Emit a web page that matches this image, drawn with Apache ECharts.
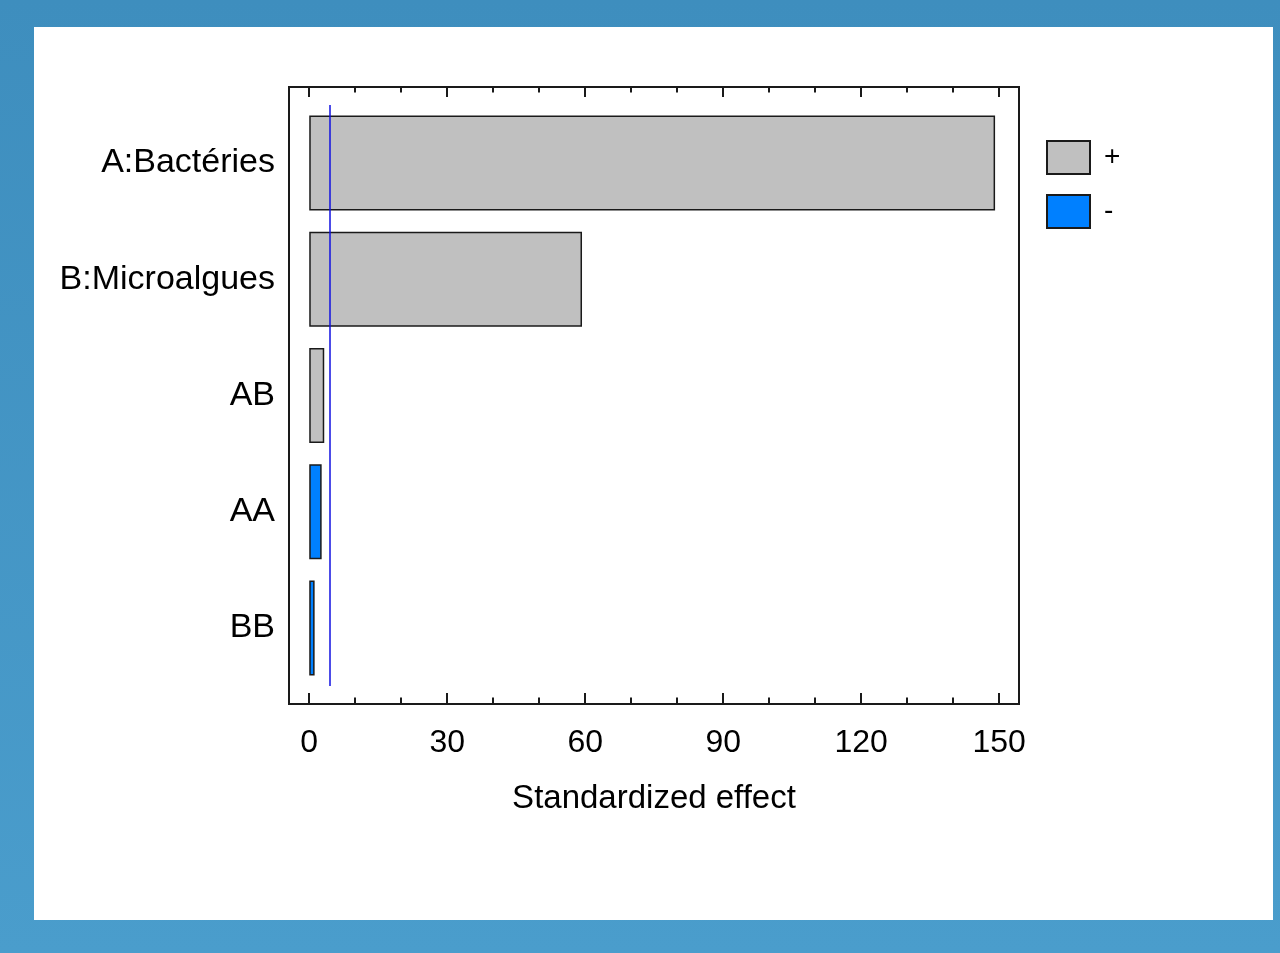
<!DOCTYPE html>
<html lang="fr">
<head>
    <meta charset="UTF-8">
    <title>Standardized effect</title>
    <script src="https://cdn.jsdelivr.net/npm/echarts@6.0.0/dist/echarts.min.js"></script>
    <style>
        * { margin: 0; padding: 0; box-sizing: border-box; }
        body {
            width: 1280px;
            height: 953px;
            overflow: hidden;
            background: linear-gradient(#3e8ebe, #4a9dcc);
            position: relative;
        }
        #panel {
            position: absolute;
            left: 34px; top: 27px;
            width: 1239px; height: 893px;
            background: #ffffff;
        }
        #chart {
            position: absolute;
            left: 0; top: 0;
            width: 1280px; height: 953px;
        }
    </style>
</head>
<body>
    <div id="panel"></div>
    <div id="chart"></div>

    <script>
        // donnees
        const categories = ['A:Bactéries', 'B:Microalgues', 'AB', 'AA', 'BB'];
        const positiveEffects = [149.1, 59.3, 3.26, '-', '-'];
        const negativeEffects = ['-', '-', '-', 2.7, 1.17];
        const criticalValue = 4.43;
        const majorTicks = [0, 30, 60, 90, 120, 150];
        const minorTicks = [10, 20, 40, 50, 70, 80, 100, 110, 130, 140];

        // pas de police etroite installee : on reduit la taille pour garder la largeur
        const FONT = "'Liberation Sans', Arial, sans-serif";
        const xMin = -4.4, xMax = 154.3;

        // un axe x par rangee de graduations (haut/bas, majeures/mineures)
        function tickAxis(position, offset, values, len, withLabels) {
            const ax = {
                type: 'value',
                position: position,
                offset: offset,
                min: xMin,
                max: xMax,
                splitLine: { show: false },
                axisLine: { show: false },
                axisTick: {
                    show: true,
                    inside: true,
                    length: len,
                    customValues: values,
                    lineStyle: { color: '#1a1a1a', width: 2 }
                },
                axisLabel: { show: false }
            };
            if (withLabels) {
                ax.axisLabel = {
                    show: true,
                    customValues: values,
                    fontSize: 32,
                    fontFamily: FONT,
                    color: '#000',
                    margin: 24
                };
                ax.name = 'Standardized effect';
                ax.nameLocation = 'middle';
                ax.nameGap = 79;
                ax.nameTextStyle = { fontSize: 33, fontFamily: FONT, color: '#000' };
            }
            return ax;
        }

        const chart = echarts.init(document.getElementById('chart'));
        chart.setOption({
            backgroundColor: 'transparent',
            animation: false,
            grid: { left: 289, right: 261, top: 105, bottom: 267 },
            legend: {
                orient: 'vertical',
                left: 1046,
                top: 140,
                padding: 0,
                icon: 'rect',
                itemWidth: 43,
                itemHeight: 33,
                itemGap: 19,
                textStyle: { fontSize: 28, fontFamily: FONT, color: '#000', padding: [0, 0, 0, 9] },
                data: ['+', '-']
            },
            xAxis: [
                tickAxis('bottom', 17, majorTicks, 10, true),
                tickAxis('bottom', 17, minorTicks, 5.5, false),
                tickAxis('top', 18, majorTicks, 10, false),
                tickAxis('top', 18, minorTicks, 5.5, false)
            ],
            yAxis: {
                type: 'category',
                inverse: true,
                data: categories,
                axisLine: { show: false },
                axisTick: { show: false },
                axisLabel: { fontSize: 34, fontFamily: FONT, color: '#000', margin: 14 }
            },
            graphic: [{
                type: 'rect',
                shape: { x: 289, y: 87, width: 730, height: 617 },
                style: { fill: 'none', stroke: '#1a1a1a', lineWidth: 2 },
                silent: true,
                z: 10
            }],
            series: [
                {
                    name: '+',
                    type: 'bar',
                    data: positiveEffects,
                    barWidth: 95,
                    barGap: '-100%',
                    itemStyle: { color: '#c0c0c0', borderColor: '#1a1a1a', borderWidth: 1.5 },
                    markLine: {
                        silent: true,
                        symbol: 'none',
                        label: { show: false },
                        lineStyle: { color: '#1010e0', width: 1.5, type: 'solid' },
                        data: [{ xAxis: criticalValue }]
                    }
                },
                {
                    name: '-',
                    type: 'bar',
                    data: negativeEffects,
                    barWidth: 95,
                    itemStyle: { color: '#0080ff', borderColor: '#1a1a1a', borderWidth: 1.5 }
                }
            ]
        });
    </script>
</body>
</html>
